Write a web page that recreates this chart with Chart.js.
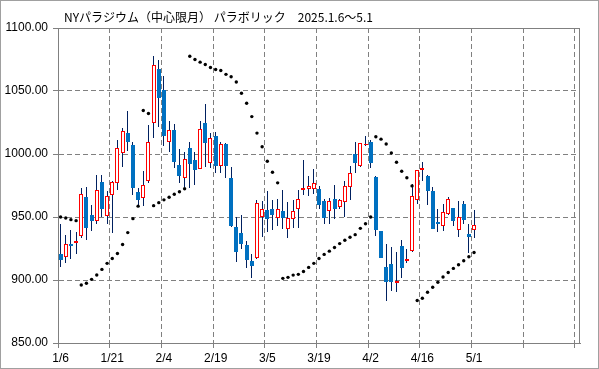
<!DOCTYPE html>
<html lang="ja">
<head>
<meta charset="UTF-8">
<title>NYパラジウム パラボリック</title>
<script src="https://cdn.jsdelivr.net/npm/chart.js"></script>
<style>
  html, body { margin: 0; padding: 0; background: #fff; }
  canvas { display: block; }
</style>
</head>
<body>
<canvas id="chart" width="599" height="369"></canvas>
<script>
const title = "NYパラジウム（中心限月） パラボリック　2025.1.6～5.1";

const dates = [
  "1/6","1/7","1/8","1/9","1/10","1/13","1/14","1/15","1/16","1/17",
  "1/21","1/22","1/23","1/24","1/27","1/28","1/29","1/30","1/31","2/3",
  "2/4","2/5","2/6","2/7","2/10","2/11","2/12","2/13","2/14","2/18",
  "2/19","2/20","2/21","2/24","2/25","2/26","2/27","2/28","3/3","3/4",
  "3/5","3/6","3/7","3/10","3/11","3/12","3/13","3/14","3/17","3/18",
  "3/19","3/20","3/21","3/24","3/25","3/26","3/27","3/28","3/31","4/1",
  "4/2","4/3","4/4","4/7","4/8","4/9","4/10","4/11","4/14","4/15",
  "4/16","4/17","4/21","4/22","4/23","4/24","4/25","4/28","4/29","4/30",
  "5/1"
];
const emptySlots = 20; // axis runs on past the last date

const open = [
  920.3, 918.4, 928.2, 929.5, 935.0, 965.5, 951.3, 946.8, 977.4, 950.8,
  967.6, 977.1, 1000.5, 1016.6, 1007.4, 969.5, 965.3, 978.2, 1024.5, 1067.1,
  1050.8, 1009.2, 1018.9, 991.6, 981.1, 1004.7, 995.5, 988.2, 1024.5, 992.9,
  1013.9, 990.8, 1007.9, 981.1, 942.1, 937.6, 927.6, 915.0, 917.1, 950.0,
  955.3, 956.1, 949.2, 954.5, 940.8, 948.7, 956.6, 971.3, 972.4, 972.4,
  972.4, 962.4, 954.7, 963.9, 957.9, 961.8, 973.7, 1000.0, 990.3, 1006.8,
  1009.7, 982.1, 938.7, 910.5, 912.6, 897.4, 926.8, 915.3, 923.2, 963.7,
  987.1, 982.9, 971.0, 945.8, 943.2, 952.6, 957.4, 940.0, 960.0, 936.8,
  940.0
];
const high = [
  944.7, 936.0, 939.5, 938.2, 973.2, 974.2, 959.7, 983.7, 983.7, 970.3,
  978.9, 1011.0, 1020.3, 1033.9, 1009.7, 972.9, 986.6, 1022.9, 1077.6, 1074.5,
  1061.8, 1026.3, 1023.7, 1003.9, 1001.3, 1009.2, 1001.3, 1026.3, 1039.5, 1016.6,
  1017.6, 1009.2, 1008.4, 989.5, 950.0, 951.3, 931.1, 920.3, 963.2, 962.4,
  971.0, 963.2, 964.0, 971.8, 961.8, 963.2, 971.8, 995.5, 982.9, 988.2,
  974.5, 964.5, 965.0, 975.5, 964.5, 978.9, 990.8, 1009.7, 1009.0, 1013.9,
  1011.0, 982.5, 939.0, 928.9, 925.8, 922.6, 931.6, 925.0, 976.3, 987.6,
  993.4, 983.0, 974.2, 956.6, 960.5, 965.8, 957.5, 962.4, 962.4, 944.2,
  955.3
];
const low = [
  910.5, 913.7, 917.0, 920.5, 933.4, 931.6, 938.7, 944.7, 950.0, 944.7,
  937.6, 971.8, 989.5, 1002.6, 967.1, 958.4, 958.7, 977.1, 1012.4, 1021.8,
  1006.6, 1001.3, 988.9, 977.1, 973.7, 973.2, 975.5, 988.0, 989.5, 988.9,
  985.0, 985.0, 981.1, 942.0, 914.5, 925.0, 909.7, 901.3, 917.0, 934.2,
  938.2, 939.5, 942.6, 940.8, 933.4, 941.3, 941.3, 967.1, 966.6, 968.4,
  956.6, 944.2, 944.2, 948.7, 956.1, 950.0, 963.2, 984.7, 990.0, 1006.6,
  988.7, 934.7, 917.4, 883.4, 891.3, 890.2, 901.3, 913.2, 922.4, 960.5,
  978.9, 959.2, 940.5, 938.2, 938.9, 951.3, 942.6, 934.2, 944.2, 921.6,
  933.7
];
const close = [
  916.0, 928.2, 926.8, 930.8, 968.4, 941.3, 946.8, 971.8, 956.3, 966.8,
  977.4, 1004.7, 1018.2, 1009.2, 972.9, 963.7, 975.5, 1009.2, 1071.0, 1044.7,
  1013.9, 1018.9, 993.4, 982.4, 995.8, 992.1, 987.1, 1019.7, 1008.4, 1012.6,
  990.3, 1007.9, 990.3, 942.9, 922.4, 928.7, 915.8, 911.3, 961.3, 956.1,
  948.2, 951.3, 956.1, 949.2, 949.5, 954.5, 963.9, 973.2, 974.7, 977.1,
  959.2, 949.2, 962.4, 956.1, 963.2, 975.0, 985.0, 992.6, 1008.7, 1007.9,
  992.9, 940.0, 917.6, 898.7, 898.2, 899.0, 909.2, 916.3, 966.8, 987.4,
  988.9, 970.5, 940.5, 944.5, 954.2, 964.5, 946.8, 950.0, 947.9, 934.2,
  943.9
];
const sar = [
  950.0, 949.2, 947.9, 947.1, 896.0, 897.4, 900.5, 904.0, 908.4, 913.2,
  917.1, 921.0, 928.2, 937.6, 948.7, 958.6, 1034.5, 1032.1, 959.0, 961.4,
  963.6, 965.7, 968.0, 970.0, 972.4, 1077.6, 1075.0, 1072.9, 1071.0, 1068.7,
  1067.1, 1066.3, 1063.2, 1061.3, 1057.1, 1048.2, 1040.3, 1029.7, 1016.6, 1005.8,
  994.2, 985.5, 977.1, 901.3, 902.1, 903.9, 904.5, 906.8, 910.0, 913.2,
  917.1, 920.3, 922.9, 925.8, 928.9, 931.6, 933.9, 936.0, 941.0, 944.7,
  950.0, 1013.7, 1011.8, 1007.9, 1000.8, 993.5, 986.3, 981.1, 974.7, 883.7,
  885.5, 890.3, 894.2, 898.2, 902.4, 906.0, 909.2, 912.1, 915.3, 918.4,
  921.8
];

const labels = dates.concat(new Array(emptySlots).fill(""));
const up = open.map((o, i) => close[i] >= o);

const gridGray = "#808080";

// snap candle rectangles to whole pixels so the thin outlines stay crisp
const snapBars = {
  id: "snapBars",
  beforeDatasetsDraw(chart) {
    [0, 1].forEach(d => {
      chart.getDatasetMeta(d).data.forEach(el => {
        el.x = d === 0 ? Math.floor(el.x) + 0.5 : Math.round(el.x);
        el.y = Math.round(el.y);
        el.base = Math.round(el.base);
      });
    });
  }
};

const frame = {
  id: "frame",
  afterDraw(chart) {
    const { ctx, chartArea } = chart;
    ctx.save();
    ctx.strokeStyle = gridGray;
    ctx.lineWidth = 1;
    ctx.strokeRect(Math.round(chartArea.left) + 0.5, Math.round(chartArea.top) + 0.5,
      Math.round(chartArea.right - chartArea.left) - 1, Math.round(chartArea.bottom - chartArea.top));
    ctx.strokeStyle = "#a0a0a0";
    ctx.strokeRect(0.5, 0.5, chart.width - 1, chart.height - 1);
    ctx.fillStyle = "#000";
    ctx.font = '12px "Noto Sans CJK JP"';
    ctx.textBaseline = "middle";
    ctx.fillText(title, 64, 17);
    ctx.restore();
  }
};

new Chart(document.getElementById("chart"), {
  type: "bar",
  data: {
    labels,
    datasets: [
      {
        label: "wick",
        data: low.map((l, i) => [l, high[i]]),
        backgroundColor: "#002060",
        barThickness: 1,
        grouped: false,
        inflateAmount: 0,
        order: 3
      },
      {
        label: "body",
        data: open.map((o, i) => [o, close[i]]),
        backgroundColor: up.map(u => (u ? "#ffffff" : "#0070C0")),
        borderColor: up.map(u => (u ? "#ff0000" : "#0070C0")),
        borderWidth: 1,
        borderSkipped: false,
        barThickness: 4,
        grouped: false,
        inflateAmount: 0,
        order: 2
      },
      {
        type: "line",
        label: "SAR",
        data: sar,
        showLine: false,
        pointRadius: 1.7,
        pointBorderWidth: 0,
        pointBackgroundColor: "#000",
        order: 1
      }
    ]
  },
  options: {
    responsive: false,
    animation: false,
    layout: { padding: { top: 28, right: 19, left: 0, bottom: 0 } },
    plugins: {
      legend: { display: false },
      tooltip: { enabled: false }
    },
    scales: {
      x: {
        type: "category",
        offset: true,
        afterFit(scale) { scale.height = 26; },
        grid: {
          offset: true,
          color: ctx => (ctx.index % 10 === 0 ? gridGray : "rgba(0,0,0,0)"),
          tickLength: 5,
          lineWidth: 1
        },
        border: { display: true, color: gridGray, dash: [5, 3] },
        ticks: {
          autoSkip: false,
          maxRotation: 0,
          padding: 3,
          color: "#000",
          font: { family: "Liberation Sans", size: 12 },
          callback: (v, i) => (i % 10 === 0 ? labels[i] : "")
        }
      },
      y: {
        min: 850,
        max: 1100,
        afterFit(scale) { scale.width = 58; },
        grid: {
          color: gridGray,
          tickLength: 5,
          tickColor: gridGray
        },
        border: { display: true, color: gridGray, dash: [5, 3] },
        ticks: {
          stepSize: 50,
          padding: 5,
          color: "#000",
          font: { family: "Liberation Sans", size: 12 },
          callback: v => v.toFixed(2)
        }
      }
    }
  },
  plugins: [snapBars, frame]
});
</script>
</body>
</html>
